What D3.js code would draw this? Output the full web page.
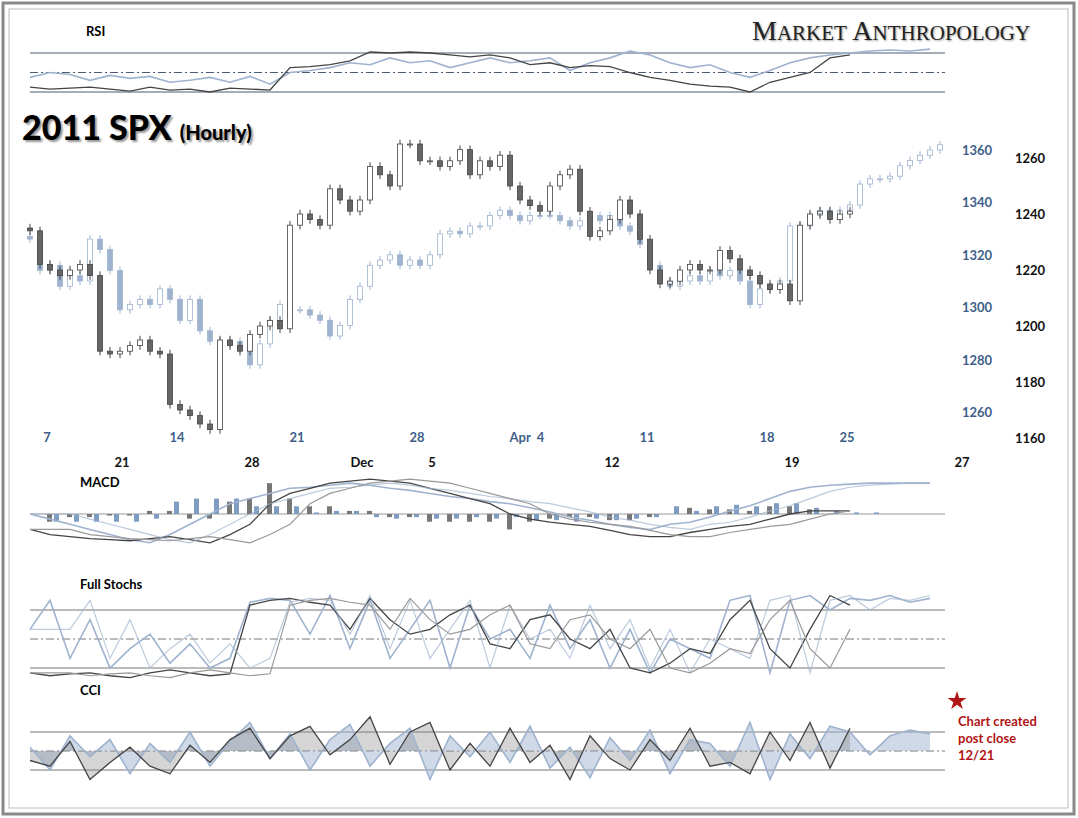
<!DOCTYPE html><html><head><meta charset="utf-8"><script src="https://cdn.jsdelivr.net/npm/d3@7"></script>
<style>body{margin:0;background:#fff}</style></head><body><svg id="c" width="1078" height="818"></svg><script>
// 2011 SPX hourly closes (right axis) and comparison series (left axis)
const spxClose=[1234,1222,1220,1218,1220,1222,1218,1191,1190,1191,1193,1195,1191,1190,1172,1170,1168,1165,1163,1195,1193,1191,1197,1200,1202,1199,1236,1240,1238,1236,1249,1245,1241,1245,1257,1254,1250,1265,1265,1259,1259,1257,1259,1263,1254,1259,1257,1261,1250,1245,1243,1241,1250,1254,1256,1241,1232,1234,1238,1245,1240,1231,1220,1215,1216,1220,1222,1220,1220,1227,1224,1220,1218,1215,1213,1215,1209,1236,1240,1241,1238,1240,1241];
const cmpClose=[1326,1314,1316,1308,1312,1310,1326,1322,1314,1299,1301,1303,1301,1307,1303,1295,1303,1291,1287,1286,1287,1284,1278,1286,1295,1301,1299,1299,1297,1295,1289,1293,1303,1308,1316,1318,1320,1316,1318,1316,1320,1328,1329,1328,1331,1331,1335,1337,1335,1333,1335,1335,1335,1333,1331,1333,1335,1333,1335,1331,1329,1324,1316,1310,1308,1310,1312,1310,1314,1312,1314,1310,1301,1307,1308,1310,1331,1331,1335,1337,1335,1337,1339,1347,1349,1349,1350,1354,1356,1358,1360,1362];
const blueDates=[["7",0],["14",13],["21",25],["28",37],["Apr  4",48],["11",60],["18",72],["25",80]];
const blackDates=[["21",6],["28",19],["Dec",30],["5",37],["12",55],["19",73],["27",90]];
const leftTicks=[1260,1280,1300,1320,1340,1360];
const rightTicks=[1160,1180,1200,1220,1240,1260];
const rsiDark=[35,33,34,35,33,31,35,32,33,30,34,33,32,55,56,58,62,71,70,71,70,68,66,68,65,58,60,55,57,56,50,45,42,38,36,35,30,40,45,50,65,68];
const rsiBlue=[45,50,48,42,47,44,46,40,42,45,40,46,38,50,52,55,60,58,65,60,62,55,60,65,60,62,65,52,60,65,72,68,60,55,58,50,45,52,60,65,68,70,72,73,72,74];
const macdDark=[-1.5,-2,-2.2,-2.4,-2.5,-2.6,-2.4,-2.2,-2.5,-2.8,-2,-1,1,2,2.5,3,3.2,3.4,3.2,3,2.5,2,1.5,1,0,-0.5,-0.8,-1,-1.2,-1.6,-2,-2.2,-2.2,-1.8,-1.5,-1.2,-1,-0.5,0,0.3,0.3,0.3];
const macdBlue=[0,-0.5,-1,-1.5,-2,-2.5,-2.8,-2,-1,0,1,1.5,2,2.5,2.6,2.8,3,2.8,2.5,2.3,2,1.7,1.5,1.2,1,0.6,0.2,-0.3,-0.6,-1,-1.3,-1.5,-1,-0.8,-0.3,0.3,0.8,1.5,2.2,2.6,2.8,2.9,3,3,3,3];
const stoDark=[15,12,14,15,12,10,15,18,15,12,14,85,90,92,88,85,60,92,70,55,60,75,85,45,40,70,75,50,40,60,20,15,25,40,35,70,90,40,20,60,95,85];
const stoBlue=[60,90,30,70,20,40,55,25,45,20,30,88,92,90,55,95,40,90,30,60,90,20,85,50,60,30,85,40,70,20,60,15,50,40,30,90,95,15,90,95,80,92,90,95,88,92];
const cciDark=[-50,-80,50,-150,-60,20,-80,-120,30,-60,60,120,-40,80,130,-20,60,180,-70,100,150,-100,40,-80,120,-60,30,-150,80,-40,-100,60,-50,120,-80,-60,-120,100,-50,150,-90,120];
const cciBlue=[20,-100,80,-30,60,-120,40,-60,100,-80,50,150,-40,90,-100,60,140,-80,40,120,-150,80,-30,100,-60,130,-90,20,-140,70,-50,110,-120,60,40,-80,150,-150,90,-40,130,100,-20,80,110,90];

const svg=d3.select("#c");
const F="Lato, 'Open Sans', sans-serif";
svg.append("rect").attr("x",3).attr("y",3).attr("width",1071).attr("height",811).attr("fill","#fff").attr("stroke","#888").attr("stroke-width",3);
svg.append("rect").attr("x",9).attr("y",9).attr("width",1059).attr("height",799).attr("fill","none").attr("stroke","#bbb").attr("stroke-width",1);
const x=d3.scaleLinear().domain([0,91]).range([30,940]);
const xi=d3.scaleLinear().domain([0,45]).range([30,930]);
const yL=d3.scaleLinear().domain([1260,1360]).range([412,150]);
const yR=d3.scaleLinear().domain([1160,1260]).range([438,158]);
const BLUE="#9fb3cf", BLUED="#7f9cc3";
function candles(data,y,isDark){
  const g=svg.append("g");
  data.forEach((c,i)=>{
    const o=i?data[i-1]:c+1, hi=Math.max(o,c)+1.5, lo=Math.min(o,c)-1.5;
    g.append("line").attr("x1",x(i)).attr("x2",x(i)).attr("y1",y(hi)).attr("y2",y(lo)).attr("stroke",isDark?"#444":BLUE).attr("stroke-width",1);
    const up=c>=o;
    g.append("rect").attr("x",x(i)-2.5).attr("width",5).attr("y",y(Math.max(o,c))).attr("height",Math.max(1,Math.abs(y(o)-y(c))))
      .attr("fill",isDark?(up?"#fff":"#666"):(up?"#fff":BLUE)).attr("stroke",isDark?"#444":BLUE).attr("stroke-width",0.8);
  });
}
candles(cmpClose,yL,false);
candles(spxClose,yR,true);
svg.append("g").selectAll("text").data(leftTicks).join("text").attr("x",962).attr("y",d=>yL(d)+5).text(d=>d)
  .attr("font-family",F).attr("font-weight","bold").attr("font-size",13).attr("fill","#3e5f8a");
svg.append("g").selectAll("text").data(rightTicks).join("text").attr("x",1015).attr("y",d=>yR(d)+5).text(d=>d)
  .attr("font-family",F).attr("font-weight","bold").attr("font-size",13).attr("fill","#111");
svg.append("g").selectAll("text").data(blueDates).join("text").attr("x",d=>x(d[1])+17).attr("y",442).attr("text-anchor","middle").text(d=>d[0])
  .attr("font-family",F).attr("font-weight","bold").attr("font-size",13).attr("fill","#3e5f8a").attr("xml:space","preserve");
svg.append("g").selectAll("text").data(blackDates).join("text").attr("x",d=>x(d[1])+32).attr("y",467).attr("text-anchor","middle").text(d=>d[0])
  .attr("font-family",F).attr("font-weight","bold").attr("font-size",13).attr("fill","#111");
svg.append("text").attr("x",22).attr("y",140).attr("font-family",F).attr("font-weight","900").attr("font-size",34).attr("fill","#000").style("text-shadow","2px 2px 2px #999")
  .text("2011 SPX").append("tspan").attr("font-size",20).attr("dx",8).text("(Hourly)");
svg.append("text").attr("x",752).attr("y",40).attr("font-family","'Liberation Serif', serif").attr("font-size",28).attr("fill","#222").style("text-shadow","1px 1px 2px #999")
  .html('M<tspan font-size="21">ARKET</tspan> A<tspan font-size="21">NTHROPOLOGY</tspan>');
function panel(label,ly,dom,yr,levels,darkArr,blueArr,opts={}){
  const y=d3.scaleLinear().domain(dom).range(yr);
  svg.append("text").attr("x",opts.lx||80).attr("y",ly).text(label).attr("font-family",F).attr("font-weight","bold").attr("font-size",13);
  levels.forEach(l=>svg.append("line").attr("x1",30).attr("x2",945).attr("y1",y(l.v)).attr("y2",y(l.v)).attr("stroke",l.c||"#4a5a70").attr("stroke-width",1).attr("stroke-dasharray",l.d||null));
  if(opts.hist){
    const h=(arr,i)=>(arr[i]-(arr[i-1]??arr[i]))*1.5;
    svg.append("g").selectAll("rect").data(darkArr).join("rect").attr("x",(d,i)=>xi(i)-3).attr("width",5)
      .attr("y",(d,i)=>Math.min(y(0),y(h(darkArr,i)))).attr("height",(d,i)=>Math.abs(y(0)-y(h(darkArr,i)))).attr("fill","#777");
    svg.append("g").selectAll("rect").data(blueArr).join("rect").attr("x",(d,i)=>xi(i)+4).attr("width",5)
      .attr("y",(d,i)=>Math.min(y(0),y(h(blueArr,i)))).attr("height",(d,i)=>Math.abs(y(0)-y(h(blueArr,i)))).attr("fill",BLUED);
  }
  const ln=d3.line().x((d,i)=>xi(i)).y(d=>y(d));
  if(opts.area){
    const a=d3.area().x((d,i)=>xi(i)).y0(y(0)).y1(d=>y(d));
    svg.append("path").attr("d",a(blueArr)).attr("fill",BLUE).attr("opacity",0.5);
    svg.append("path").attr("d",a(darkArr)).attr("fill","#888").attr("opacity",0.35);
  }
  svg.append("path").attr("d",ln(blueArr)).attr("fill","none").attr("stroke",BLUE).attr("stroke-width",1.6);
  svg.append("path").attr("d",ln(darkArr)).attr("fill","none").attr("stroke","#444").attr("stroke-width",1.3);
  if(opts.sig){
    svg.append("path").attr("d",ln(blueArr.map((d,i)=>blueArr[Math.max(0,i-2)]))).attr("fill","none").attr("stroke",BLUE).attr("stroke-width",1.2).attr("opacity",.7);
    svg.append("path").attr("d",ln(darkArr.map((d,i)=>darkArr[Math.max(0,i-2)]))).attr("fill","none").attr("stroke","#999").attr("stroke-width",1.2);
  }
}
panel("RSI",36,[30,70],[92,53],[{v:70},{v:50,d:"8,3,2,3"},{v:30}],rsiDark,rsiBlue,{lx:86});
panel("MACD",487,[-3.5,3.5],[550,478],[{v:0,c:"#999"}],macdDark,macdBlue,{hist:true,sig:true});
panel("Full Stochs",589,[20,80],[668,610],[{v:80,c:"#777"},{v:50,d:"8,3,2,3",c:"#777"},{v:20,c:"#777"}],stoDark,stoBlue,{sig:true});
panel("CCI",695,[-100,100],[770,732],[{v:100,c:"#777"},{v:0,d:"8,3,2,3",c:"#777"},{v:-100,c:"#777"}],cciDark,cciBlue,{area:true});
const star=d3.symbol().type(d3.symbolStar).size(110)();
svg.append("path").attr("d",star).attr("transform","translate(957,701)").attr("fill","#b01515");
["Chart created","post close","12/21"].forEach((t,i)=>svg.append("text").attr("x",958).attr("y",726+i*17).text(t)
  .attr("font-family",F).attr("font-weight","bold").attr("font-size",13).attr("fill","#b01515"));
</script></body></html>
